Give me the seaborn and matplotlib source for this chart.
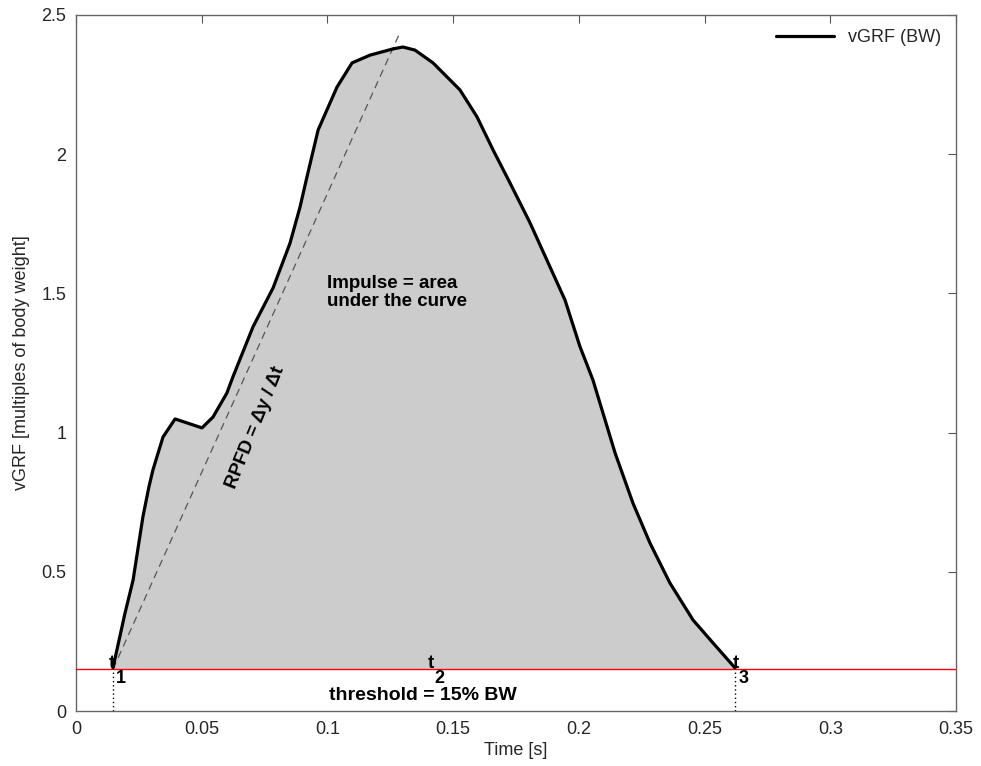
import matplotlib
matplotlib.use("Agg")
import matplotlib.pyplot as plt
import seaborn as sns
import numpy as np
import pandas as pd

# Data
time_s = [0.0147, 0.0195, 0.0227, 0.0266, 0.0290, 0.0306, 0.0346, 0.0394, 0.0501,
          0.0545, 0.0600, 0.0624, 0.0704, 0.0784, 0.0851, 0.0891, 0.0919, 0.0963,
          0.1038, 0.1098, 0.1170, 0.1260, 0.1300, 0.1348, 0.1420, 0.1527, 0.1595,
          0.1659, 0.1726, 0.1806, 0.1945, 0.2004, 0.2056, 0.2144, 0.2215, 0.2283,
          0.2362, 0.2454, 0.2534, 0.2621]
vgrf_bw = [0.155, 0.352, 0.470, 0.697, 0.805, 0.866, 0.984, 1.049, 1.017,
           1.056, 1.142, 1.200, 1.380, 1.520, 1.680, 1.810, 1.920, 2.087,
           2.241, 2.328, 2.356, 2.378, 2.385, 2.374, 2.328, 2.231, 2.134,
           2.015, 1.897, 1.753, 1.476, 1.310, 1.189, 0.927, 0.747, 0.603,
           0.460, 0.327, 0.244, 0.155]
threshold = 0.15
t1, t3 = 0.0147, 0.2621
rpfd_x = [0.0147, 0.1290]
rpfd_y = [0.150, 2.44]
x_ticks = [0, 0.05, 0.1, 0.15, 0.2, 0.25, 0.3, 0.35]
x_ticklabels = ["0", "0.05", "0.1", "0.15", "0.2", "0.25", "0.3", "0.35"]
y_ticks = [0, 0.5, 1, 1.5, 2, 2.5]
y_ticklabels = ["0", "0.5", "1", "1.5", "2", "2.5"]

df = pd.DataFrame({"Time [s]": time_s, "vGRF": vgrf_bw})

sns.set_style("white")
plt.rcParams["font.family"] = ["Liberation Sans", "DejaVu Sans"]

fig = plt.figure(figsize=(9.81, 7.66), dpi=100)
ax = fig.add_axes([76 / 981, 55 / 766, 880 / 981, 696 / 766])

ax.fill_between(df["Time [s]"], df["vGRF"], threshold, color="#cccccc", lw=0, zorder=1)
sns.lineplot(data=df, x="Time [s]", y="vGRF", color="black", lw=2.3, ax=ax,
             label="vGRF (BW)", zorder=4, sort=False)
ax.axhline(threshold, color="#ff0000", lw=1.0, zorder=3)
ax.plot(rpfd_x, rpfd_y, ls=(0, (6, 4)), color="#555555", lw=0.9, zorder=3)
for tv in (t1, t3):
    ax.plot([tv, tv], [0, threshold], ls=(0, (1, 2)), color="black", lw=1.0, zorder=3)

ax.set_xlim(0, 0.35)
ax.set_ylim(0, 2.5)
ax.set_xticks(x_ticks)
ax.set_xticklabels(x_ticklabels)
ax.set_yticks(y_ticks)
ax.set_yticklabels(y_ticklabels)
ax.tick_params(direction="in", length=6, width=0.8, color="#555555", labelsize=13,
               top=True, right=True, pad=7)
for s in ax.spines.values():
    s.set_color("#666666")
    s.set_linewidth(1.0)
ax.set_xlabel("Time [s]", fontsize=13, labelpad=3)
ax.set_ylabel("vGRF [multiples of body weight]", fontsize=13, labelpad=8)

bold = dict(fontweight="bold", color="black", zorder=6)
sub_y = 0.118
ax.text(t1 - 0.0003, threshold + 0.005, "t", ha="center", va="baseline", fontsize=13.5, **bold)
ax.text(t1 + 0.0032, sub_y, "1", ha="center", va="center", fontsize=13, **bold)
ax.text(0.1412, threshold + 0.005, "t", ha="center", va="baseline", fontsize=13.5, **bold)
ax.text(0.1447, sub_y, "2", ha="center", va="center", fontsize=13, **bold)
ax.text(t3 + 0.0003, threshold + 0.005, "t", ha="center", va="baseline", fontsize=13.5, **bold)
ax.text(t3 + 0.0036, sub_y, "3", ha="center", va="center", fontsize=13, **bold)
ax.text(0.138, 0.055, "threshold = 15% BW", ha="center", va="center", fontsize=14, **bold)
ax.text(0.0998, 1.565, "Impulse = area\nunder the curve", ha="left", va="top",
        linespacing=1.05, fontsize=13.5, **bold)
ax.text(0.0715, 1.02, "RPFD = \u0394y / \u0394t", ha="center", va="center",
        rotation=68, fontsize=13.5, **bold)

leg = ax.legend(loc="upper right", frameon=False, fontsize=13, handlelength=3.2,
                borderaxespad=0.4)

fig.savefig("out.png", dpi=100)
